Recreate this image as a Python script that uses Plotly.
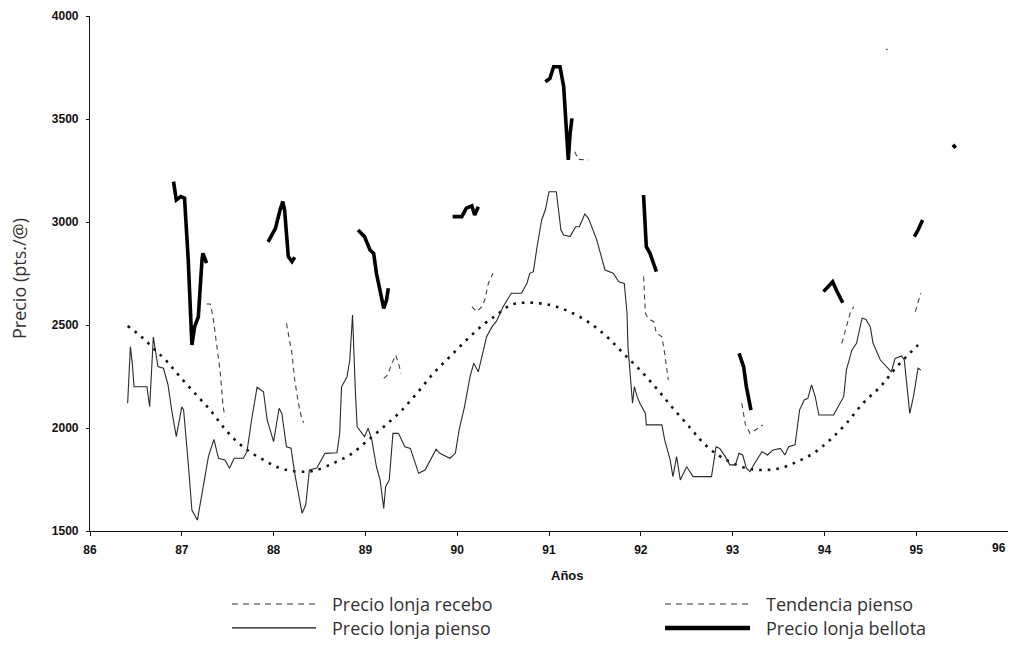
import plotly.graph_objects as go

# ---------------- data ----------------
years_ticks = [86, 87, 88, 89, 90, 91, 92, 93, 94, 95, 96]
tick_labels = [str(v) for v in years_ticks]
price_ticks = [1500, 2000, 2500, 3000, 3500, 4000]

pienso_x = [86.41, 86.44, 86.46, 86.48, 86.62, 86.65, 86.69, 86.74, 86.80, 86.85, 86.89, 86.94,
            87.00, 87.02, 87.07, 87.11, 87.17, 87.23, 87.29, 87.35, 87.40, 87.47, 87.52, 87.57,
            87.67, 87.71, 87.76, 87.82, 87.89, 87.93, 88.00, 88.06, 88.09, 88.14, 88.19, 88.23,
            88.31, 88.35, 88.39, 88.47, 88.56, 88.69, 88.72, 88.74, 88.80, 88.83, 88.86, 88.89,
            88.91, 88.99, 89.03, 89.07, 89.12, 89.16, 89.20, 89.22, 89.26, 89.30, 89.36, 89.43,
            89.49, 89.58, 89.65, 89.77, 89.81, 89.92, 89.98, 90.02, 90.08, 90.14, 90.18, 90.23,
            90.27, 90.32, 90.38, 90.43, 90.50, 90.59, 90.70, 90.76, 90.79, 90.83, 90.87, 90.92,
            90.96, 91.00, 91.08, 91.13, 91.16, 91.23, 91.29, 91.33, 91.39, 91.43, 91.52, 91.61,
            91.70, 91.76, 91.82, 91.85, 91.86, 91.89, 91.91, 91.93, 91.96, 91.99, 92.05, 92.06,
            92.23, 92.26, 92.32, 92.35, 92.39, 92.43, 92.50, 92.57, 92.77, 92.82, 92.86, 92.92,
            92.97, 93.03, 93.07, 93.11, 93.15, 93.19, 93.24, 93.32, 93.38, 93.44, 93.52, 93.57,
            93.61, 93.68, 93.73, 93.78, 93.82, 93.86, 93.90, 93.94, 94.10, 94.21, 94.24, 94.30,
            94.35, 94.41, 94.45, 94.50, 94.53, 94.61, 94.73, 94.77, 94.84, 94.87, 94.93, 94.97,
            95.02, 95.05]
pienso_y = [2120, 2395, 2316, 2200, 2200, 2103, 2443, 2298, 2290, 2209, 2087, 1958,
            2103, 2087, 1829, 1602, 1553, 1715, 1861, 1945, 1853, 1845, 1805, 1853,
            1853, 1885, 2039, 2198, 2176, 2039, 1934, 2096, 2071, 1909, 1902, 1780,
            1586, 1626, 1796, 1806, 1877, 1880, 1974, 2200, 2249, 2330, 2549, 2185,
            2006, 1958, 1999, 1942, 1812, 1748, 1610, 1715, 1748, 1974, 1974, 1909,
            1901, 1780, 1796, 1897, 1877, 1853, 1877, 1990, 2104, 2249, 2314, 2273,
            2346, 2443, 2492, 2520, 2589, 2654, 2654, 2702, 2751, 2759, 2880, 3010,
            3058, 3147, 3147, 2961, 2937, 2929, 2977, 2977, 3039, 3018, 2913, 2767,
            2751, 2710, 2702, 2557, 2395, 2233, 2120, 2201, 2152, 2120, 2071, 2015,
            2015, 1942, 1845, 1764, 1861, 1748, 1812, 1764, 1764, 1909, 1901, 1861,
            1821, 1821, 1877, 1869, 1805, 1788, 1829, 1885, 1869, 1893, 1901, 1869,
            1909, 1918, 2088, 2136, 2144, 2209, 2152, 2063, 2063, 2152, 2282, 2379,
            2411, 2533, 2528, 2492, 2411, 2330, 2273, 2338, 2350, 2330, 2071, 2152,
            2290, 2282]

tendencia_x = [86.41, 86.56, 86.69, 86.84, 86.98, 87.16, 87.31, 87.45, 87.60, 87.74, 87.89, 88.03,
               88.18, 88.36, 88.47, 88.65, 88.83, 89.01, 89.20, 89.38, 89.56, 89.74, 89.92, 90.10,
               90.28, 90.43, 90.58, 90.72, 90.90, 91.08, 91.26, 91.45, 91.63, 91.81, 91.99, 92.17,
               92.35, 92.54, 92.65, 92.79, 92.97, 93.15, 93.33, 93.52, 93.70, 93.88, 94.06, 94.24,
               94.42, 94.61, 94.79, 95.02]
tendencia_y = [2495, 2443, 2387, 2322, 2249, 2160, 2087, 2006, 1934, 1885, 1845, 1812,
               1793, 1788, 1796, 1829, 1869, 1934, 2006, 2079, 2168, 2265, 2346, 2427,
               2500, 2549, 2597, 2608, 2605, 2589, 2557, 2508, 2443, 2362, 2282, 2193,
               2096, 2000, 1942, 1885, 1836, 1805, 1796, 1805, 1836, 1877, 1942, 2023,
               2120, 2201, 2298, 2403]

bellota_x = [86.91, 86.94, 86.99, 87.03, 87.07, 87.11, 87.14, 87.18, 87.22, 87.23, 87.27, None,
             87.94, 88.02, 88.07, 88.10, 88.12, 88.16, 88.20, 88.23, None,
             88.92, 88.99, 89.05, 89.09, 89.12, 89.16, 89.20, 89.23, 89.25, None,
             89.95, 90.05, 90.10, 90.16, 90.19, 90.23, None,
             90.96, 91.01, 91.05, 91.12, 91.16, 91.19, 91.21, 91.23, 91.25, None,
             92.03, 92.06, 92.10, 92.17, None,
             93.07, 93.12, 93.15, 93.20, None,
             93.99, 94.09, 94.13, 94.20, None,
             94.98, 95.02, 95.07, None,
             95.40, 95.43]
bellota_y = [3196, 3107, 3123, 3115, 2816, 2403, 2492, 2540, 2816, 2848, 2800, None,
             2904, 2969, 3058, 3099, 3058, 2832, 2808, 2829, None,
             2961, 2929, 2864, 2848, 2751, 2654, 2581, 2621, 2678, None,
             3026, 3026, 3067, 3078, 3034, 3074, None,
             3681, 3697, 3754, 3754, 3657, 3463, 3301, 3430, 3503, None,
             3131, 2880, 2848, 2759, None,
             2362, 2298, 2201, 2087, None,
             2662, 2710, 2670, 2608, None,
             2929, 2961, 3010, None,
             3375, 3360]

recebo_x = [87.27, 87.31, 87.34, 87.38, 87.42, 87.45, 87.47, None,
            88.14, 88.20, 88.23, 88.27, 88.31, 88.33, None,
            89.20, 89.24, 89.29, 89.33, 89.36, 89.39, None,
            90.16, 90.21, 90.27, 90.30, 90.34, 90.39, None,
            91.28, 91.32, 91.43, None,
            92.03, 92.05, 92.08, 92.14, 92.17, 92.23, 92.26, 92.30, None,
            93.10, 93.14, 93.19, 93.24, 93.33, None,
            94.19, 94.24, 94.28, 94.32, None,
            94.99, 95.02, 95.05, None,
            94.67, 94.69]
recebo_y = [2602, 2602, 2540, 2395, 2265, 2104, 2055, None,
            2508, 2362, 2233, 2120, 2039, 2026, None,
            2241, 2257, 2314, 2354, 2314, 2265, None,
            2589, 2565, 2589, 2621, 2702, 2751, None,
            3341, 3304, 3301, None,
            2735, 2557, 2532, 2516, 2460, 2443, 2362, 2233, None,
            2120, 2015, 1974, 1990, 2015, None,
            2411, 2492, 2557, 2589, None,
            2565, 2605, 2654, None,
            3840, 3836]

series_names = ["Precio lonja recebo", "Tendencia pienso",
                "Precio lonja pienso", "Precio lonja bellota"]

# ---------------- figure ----------------
fig = go.Figure()

fig.add_trace(go.Scatter(x=tendencia_x, y=tendencia_y, mode="lines", name=series_names[1],
                         line=dict(color="#111", width=2.6, dash="2.6px,6px", shape="spline"),
                         showlegend=False))
fig.add_trace(go.Scatter(x=pienso_x, y=pienso_y, mode="lines", name=series_names[2],
                         line=dict(color="#2a2a2a", width=1.1), showlegend=False))
fig.add_trace(go.Scatter(x=recebo_x, y=recebo_y, mode="lines", name=series_names[0],
                         line=dict(color="#444", width=1.1, dash="5px,4px"),
                         connectgaps=False, showlegend=False))
fig.add_trace(go.Scatter(x=bellota_x, y=bellota_y, mode="lines", name=series_names[3],
                         line=dict(color="#000", width=3.6), connectgaps=False,
                         showlegend=False))

tickfont = dict(family="Liberation Sans, Arial, sans-serif", size=12, color="#111", weight="bold")

# The page has an 8px body margin on every side; a 1000x632 figure fills the
# 1016x648 window exactly, so the plot area lands at x 90..1008, y 16..531.
x_labels = tick_labels[:-1] + [""]
fig.update_layout(
    width=1000, height=632,
    margin=dict(l=82, r=0, t=8, b=109),
    paper_bgcolor="white", plot_bgcolor="white",
    xaxis=dict(range=[86, 96], tickvals=years_ticks, ticktext=x_labels,
               showline=True, linecolor="#111", linewidth=1.2, ticks="outside",
               ticklen=4, tickcolor="#111", showgrid=False, zeroline=False,
               tickfont=tickfont, ticklabelstandoff=3),
    xaxis2=dict(range=[86, 96], matches="x", overlaying="x", anchor="y",
                tickvals=years_ticks, ticks="inside", ticklen=4, tickcolor="#111",
                showticklabels=False, showline=False, showgrid=False, zeroline=False),
    yaxis=dict(range=[1500, 4000], tickvals=price_ticks,
               ticktext=[str(v) for v in price_ticks],
               showline=True, linecolor="#111", linewidth=1.2, ticks="outside",
               ticklen=3, tickcolor="#111", showgrid=False, zeroline=False,
               tickfont=tickfont, ticklabelstandoff=5),
)

# last x tick label, kept inside the figure edge
fig.add_annotation(text=tick_labels[-1], xref="x", yref="paper", x=years_ticks[-1], y=-0.0165,
                   showarrow=False, xanchor="right", yanchor="top", font=tickfont)

# axis titles placed like the reference
fig.add_annotation(text="Años", xref="paper", yref="paper", x=0.52, y=-0.087,
                   showarrow=False, xanchor="center", yanchor="middle",
                   font=dict(family="Liberation Sans, Arial, sans-serif", size=13,
                             color="#111", weight="bold"))
fig.add_annotation(text="Precio (pts./@)", xref="paper", yref="paper", x=-0.078, y=0.49,
                   showarrow=False, textangle=-90, xanchor="center", yanchor="middle",
                   font=dict(family="Open Sans, sans-serif", size=18, color="#333"))

# legend drawn below the plot in two columns
leg_font = dict(family="Open Sans, sans-serif", size=18, color="#333")
leg_items = [
    (series_names[0], 0.1547, 0.2462, -0.1417, dict(color="#333", width=1.2, dash="6px,5px")),
    (series_names[1], 0.6264, 0.7190, -0.1417, dict(color="#333", width=1.2, dash="6px,5px")),
    (series_names[2], 0.1547, 0.2462, -0.1883, dict(color="#111", width=1.3)),
    (series_names[3], 0.6264, 0.7190, -0.1883, dict(color="#000", width=4.5)),
]
for name, x0, x1, yy, ln in leg_items:
    fig.add_shape(type="line", xref="paper", yref="paper", x0=x0, x1=x1, y0=yy, y1=yy,
                  line=ln)
    fig.add_annotation(text=name, xref="paper", yref="paper", x=x1 + 0.0152, y=yy,
                       showarrow=False, xanchor="left", yanchor="middle", font=leg_font)

fig.write_html("out.html")
